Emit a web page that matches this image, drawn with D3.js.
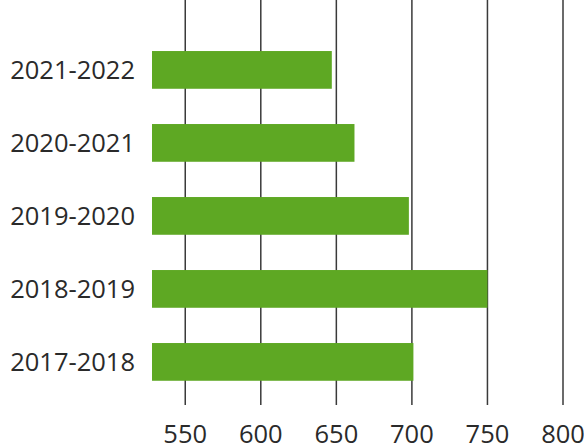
<!DOCTYPE html>
<html>
<head>
<meta charset="utf-8">
<script src="https://cdn.jsdelivr.net/npm/d3@7"></script>
<style>
  html, body { margin: 0; padding: 0; background: #fff; }
  svg { display: block; }
</style>
</head>
<body>
<svg id="chart" width="584" height="444"></svg>
<script>
const categories = ["2021-2022", "2020-2021", "2019-2020", "2018-2019", "2017-2018"];
const values = [647, 662, 698, 750, 701];
const tickValues = [550, 600, 650, 700, 750, 800];

const svg = d3.select("#chart");
const font = "'Open Sans', 'Noto Sans', sans-serif";

const x = d3.scaleLinear().domain([528, 800]).range([152, 563]);
const y = d3.scaleBand().domain(categories).range([33.4, 398.4]).paddingInner(0.483).paddingOuter(0.2415);

// gridlines
svg.append("g").selectAll("line").data(tickValues).join("line")
  .attr("x1", d => x(d)).attr("x2", d => x(d))
  .attr("y1", 0).attr("y2", 405)
  .attr("stroke", "#3a3a3a").attr("stroke-width", 1.5);

// bars
svg.append("g").selectAll("rect").data(categories).join("rect")
  .attr("x", x(528))
  .attr("y", d => y(d))
  .attr("width", (d, i) => x(values[i]) - x(528))
  .attr("height", y.bandwidth())
  .attr("fill", "#5ea823");

// category labels
svg.append("g").selectAll("text").data(categories).join("text")
  .attr("x", 135)
  .attr("y", d => y(d) + y.bandwidth() / 2)
  .attr("dy", "0.36em")
  .attr("text-anchor", "end")
  .attr("font-family", font)
  .attr("font-size", 25.5)
  .attr("fill", "#2a2a2a")
  .text(d => d);

// tick labels
svg.append("g").selectAll("text").data(tickValues).join("text")
  .attr("x", d => x(d))
  .attr("y", 443)
  .attr("text-anchor", "middle")
  .attr("font-family", font)
  .attr("font-size", 25.5)
  .attr("fill", "#2a2a2a")
  .text(d => d);
</script>
</body>
</html>
